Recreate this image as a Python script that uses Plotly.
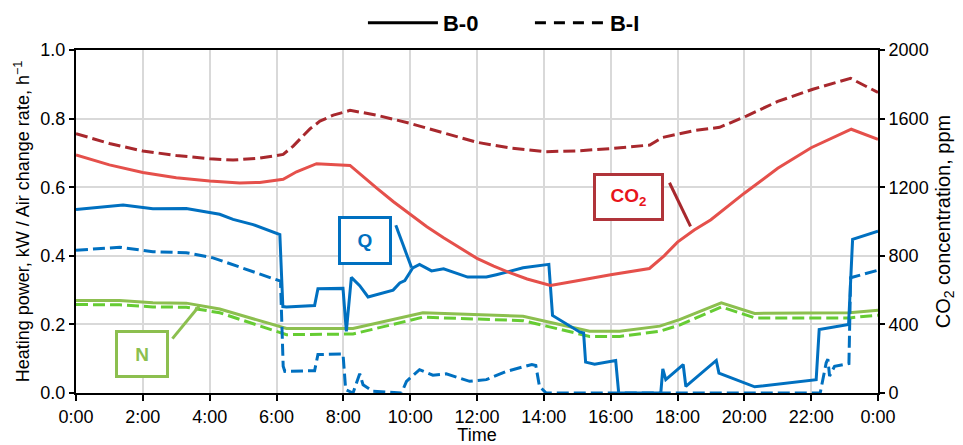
import plotly.graph_objects as go

# ---------------- data (hours of day) ----------------
t_co2_b0 = [0, 1, 2, 3, 4, 4.9, 5.5, 6.2, 6.6, 7.2, 8.2, 8.6, 9.0, 9.5, 10.0, 10.5, 11.0, 11.5,
            12.0, 12.5, 13.0, 13.5, 14.2, 15.0, 16.0, 17.16, 17.6, 18.0, 18.5, 19.0, 19.5, 20.0,
            21.0, 22.0, 23.2, 24.0]
co2_b0 = [1388, 1330, 1286, 1255, 1236, 1224, 1228, 1246, 1290, 1337, 1327, 1260, 1195, 1115,
          1040, 970, 905, 845, 785, 740, 700, 665, 627, 655, 690, 726, 800, 880, 950, 1010, 1090,
          1165, 1310, 1430, 1538, 1479]

t_co2_bi = [0, 1, 2, 3, 4, 4.7, 5.5, 6.2, 6.5, 7.0, 7.3, 7.7, 8.2, 9.0, 10.0, 11.0, 12.0, 13.0,
            14.07, 15.0, 16.0, 17.17, 17.55, 18.5, 19.26, 20.06, 21.0, 22.05, 23.18, 24.0]
co2_bi = [1512, 1455, 1411, 1385, 1366, 1358, 1370, 1391, 1440, 1540, 1585, 1620, 1648, 1620,
          1572, 1518, 1462, 1428, 1407, 1412, 1425, 1446, 1490, 1530, 1549, 1615, 1700, 1771,
          1835, 1752]

t_q_b0 = [0, 1.41, 2.30, 3.30, 4.30, 4.70, 5.30, 6.10, 6.19, 6.30, 7.14, 7.24, 7.99, 8.09, 8.24,
          8.49, 8.74, 9.49, 9.69, 9.84, 10.08, 10.28, 10.64, 11.0, 11.72, 12.28, 12.58, 12.98,
          13.38, 14.15, 14.26, 15.07, 15.19, 15.25, 15.52, 16.15, 16.24, 17.5, 17.56, 17.65,
          18.17, 18.25, 19.16, 19.24, 20.31, 22.15, 22.24, 23.12, 23.24, 24.0]
q_b0 = [0.535, 0.548, 0.537, 0.538, 0.521, 0.506, 0.491, 0.462, 0.252, 0.251, 0.255, 0.304, 0.305,
        0.18, 0.337, 0.313, 0.280, 0.300, 0.321, 0.328, 0.365, 0.375, 0.356, 0.362, 0.338, 0.338,
        0.345, 0.356, 0.365, 0.375, 0.226, 0.178, 0.175, 0.09, 0.084, 0.095, 0.0, 0.0, 0.07,
        0.039, 0.083, 0.019, 0.095, 0.058, 0.018, 0.039, 0.185, 0.2, 0.448, 0.472]

t_q_bi = [0, 1.31, 2.30, 3.30, 4.10, 5.10, 6.12, 6.20, 6.25, 7.14, 7.24, 7.99, 8.07, 8.29, 8.49,
          8.59, 8.89, 9.74, 9.89, 10.28, 10.68, 11.08, 11.78, 12.28, 12.88, 13.64, 13.76, 13.87,
          14.07, 22.27, 22.45, 22.50, 22.55, 22.70, 23.13, 23.18, 24.0]
q_bi = [0.416, 0.425, 0.412, 0.409, 0.394, 0.36, 0.326, 0.078, 0.063, 0.065, 0.112, 0.114, 0.01,
        0.0, 0.056, 0.024, 0.005, 0.0, 0.034, 0.068, 0.052, 0.056, 0.034, 0.039, 0.063, 0.083,
        0.08, 0.019, 0.0, 0.0, 0.088, 0.099, 0.049, 0.078, 0.086, 0.336, 0.358]

t_n = [0, 1.31, 2.3, 3.3, 4.3, 6.1, 6.3, 8.29, 10.38, 13.38, 15.37, 16.27, 17.47, 18.06, 19.31,
       20.31, 23.15, 24]
n_b0 = [0.27, 0.27, 0.263, 0.262, 0.245, 0.193, 0.188, 0.188, 0.234, 0.224, 0.18, 0.18, 0.195,
        0.214, 0.263, 0.232, 0.234, 0.241]
n_bi = [0.258, 0.257, 0.251, 0.25, 0.234, 0.175, 0.17, 0.172, 0.221, 0.211, 0.165, 0.165, 0.18,
        0.198, 0.251, 0.219, 0.219, 0.227]

x_tickvals = list(range(0, 25, 2))
x_ticktext = ["0:00", "2:00", "4:00", "6:00", "8:00", "10:00", "12:00", "14:00", "16:00",
              "18:00", "20:00", "22:00", "0:00"]
y_ticks = [0.0, 0.2, 0.4, 0.6, 0.8, 1.0]
y2_ticks = [0, 400, 800, 1200, 1600, 2000]

# ---------------- styles ----------------
FONT = "Liberation Sans, Arial, sans-serif"
C_Q = "#0070C0"
C_CO2_0 = "#E5504B"
C_CO2_I = "#A8282D"
C_N_0 = "#8CBF4F"
C_N_I = "#66CC33"
DASH = "12px,5px"
LW = 3

fig = go.Figure()

def add(x, y, color, dash, axis="y"):
    fig.add_trace(go.Scatter(x=x, y=y, mode="lines", yaxis=axis, showlegend=False,
                             line=dict(color=color, width=LW, dash=dash)))

add(t_n, n_bi, C_N_I, DASH)
add(t_n, n_b0, C_N_0, "solid")
add(t_q_bi, q_bi, C_Q, DASH)
add(t_q_b0, q_b0, C_Q, "solid")
add(t_co2_bi, co2_bi, C_CO2_I, DASH, "y2")
add(t_co2_b0, co2_b0, C_CO2_0, "solid", "y2")

# legend entries
fig.add_trace(go.Scatter(x=[None], y=[None], mode="lines", name="B-0",
                         line=dict(color="black", width=3)))
fig.add_trace(go.Scatter(x=[None], y=[None], mode="lines", name="B-I",
                         line=dict(color="black", width=3, dash="11px,8px")))

# label boxes
def box(x, y, text, tcolor, bcolor, w, h):
    fig.add_annotation(x=x, y=y, xref="x", yref="y", text=text, showarrow=False,
                       font=dict(family=FONT, size=19, color=tcolor),
                       bordercolor=bcolor, borderwidth=3, borderpad=0, bgcolor="white",
                       width=w, height=h)

box(8.64, 0.446, "<b>Q</b>", C_Q, C_Q, 48, 43)
box(16.52, 0.572, "<b>CO<sub>2</sub></b>", "#E8141B", "#B0343A", 65, 42)
box(1.966, 0.115, "<b>N</b>", C_N_0, C_N_0, 48, 42)

def leader(x0, y0, x1, y1, color):
    fig.add_shape(type="line", xref="x", yref="y", x0=x0, y0=y0, x1=x1, y1=y1,
                  line=dict(color=color, width=3))

leader(9.57, 0.489, 10.04, 0.366, C_Q)
leader(17.76, 0.613, 18.39, 0.486, C_CO2_I)
leader(2.885, 0.1585, 3.70, 0.255, C_N_0)

GRID = "#D9D9D9"
fig.update_layout(
    width=963, height=445,
    margin=dict(l=76, r=85, t=50, b=52, autoexpand=False),
    paper_bgcolor="white", plot_bgcolor="white",
    font=dict(family=FONT, size=18, color="black"),
    legend=dict(orientation="h", x=0.566, xanchor="center", y=1.079, yanchor="middle",
                font=dict(family=FONT, size=22, color="black", weight="bold"),
                bgcolor="rgba(0,0,0,0)", itemwidth=70, entrywidth=82),
    xaxis=dict(range=[0, 24], tickvals=x_tickvals, ticktext=x_ticktext,
               showgrid=True, gridcolor=GRID, gridwidth=1.5,
               showline=True, linecolor="black", linewidth=2, mirror=True,
               ticks="outside", ticklen=6, tickwidth=2, tickcolor="black",
               tickfont=dict(size=18), automargin=False,
               title=dict(text="Time", font=dict(size=18), standoff=4),
               zeroline=False),
    yaxis=dict(range=[0, 1], tickvals=y_ticks, tickformat=".1f",
               showgrid=True, gridcolor=GRID, gridwidth=1.5,
               showline=True, linecolor="black", linewidth=2,
               ticks="outside", ticklen=5, tickwidth=2, tickcolor="black",
               tickfont=dict(size=18), automargin=False,
               title=dict(text="Heating power, kW / Air change rate, h<sup>\u22121</sup>",
                          font=dict(size=18), standoff=6),
               zeroline=False),
    yaxis2=dict(range=[0, 2000], tickvals=y2_ticks, overlaying="y", side="right",
                showgrid=False, showline=True, linecolor="black", linewidth=2,
                ticks="outside", ticklen=5, tickwidth=2, tickcolor="black",
                tickfont=dict(size=18), automargin=False,
                title=dict(text="CO<sub>2</sub> concentration, ppm", font=dict(size=20),
                           standoff=8),
                zeroline=False),
)

fig.write_html("out.html")
